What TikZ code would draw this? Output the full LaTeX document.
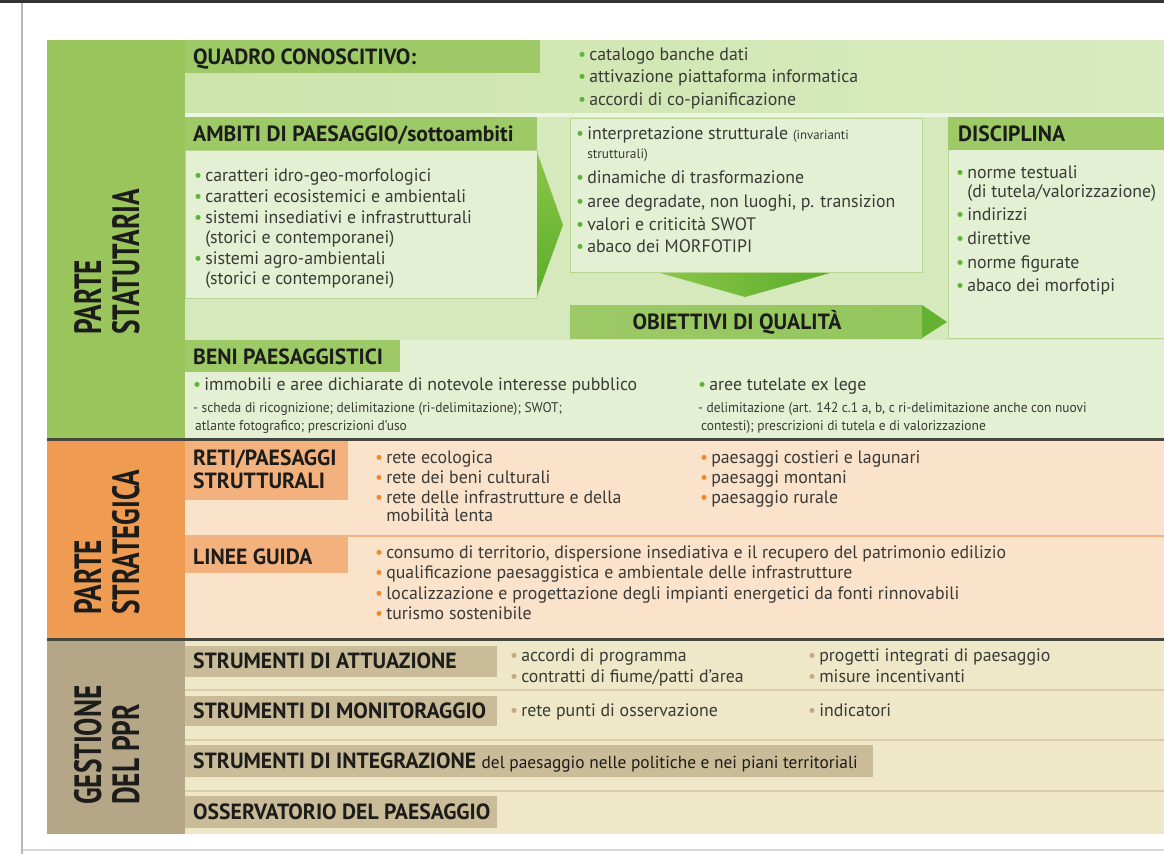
\documentclass[tikz,border=0pt]{standalone}
\usepackage{fontspec}
\setmainfont{PT Sans}
\newfontfamily\hdrfam[FakeStretch=0.985]{PT Sans}
\newfontfamily\vfam[FakeStretch=0.72]{PT Sans}
\newfontfamily\bodyfam[FakeStretch=0.99]{PT Sans}
\newfontfamily\smfam[FakeStretch=0.96]{PT Sans}
\definecolor{gcol}{HTML}{99C55C}
\definecolor{ghdr}{HTML}{9DCA66}
\definecolor{gband}{HTML}{CDE4AC}
\definecolor{gbandR}{HTML}{D8EBC0}
\definecolor{gbg}{HTML}{D5E9BC}
\definecolor{gbox}{HTML}{E4F0D3}
\definecolor{gline}{HTML}{B7D491}
\definecolor{garrowA}{HTML}{8BC649}
\definecolor{garrowB}{HTML}{5BAD2C}
\definecolor{gdot}{HTML}{5FB337}
\definecolor{ocol}{HTML}{EF9C52}
\definecolor{ohdr}{HTML}{F3B27D}
\definecolor{obg}{HTML}{FBE2CA}
\definecolor{odot}{HTML}{EE8B30}
\definecolor{oline}{HTML}{F0B587}
\definecolor{tcol}{HTML}{B4A687}
\definecolor{thdr}{HTML}{CABC99}
\definecolor{tbg}{HTML}{EEE7C8}
\definecolor{tdot}{HTML}{C4A984}
\definecolor{tline}{HTML}{D8CDA8}
\definecolor{sepc}{HTML}{46473F}
\definecolor{txt}{HTML}{3A3A36}
\definecolor{hdrtxt}{HTML}{1C1C1A}
\newcommand\gb{\textcolor{gdot}{•}\hspace{3pt}}
\newcommand\ob{\textcolor{odot}{•}\hspace{3pt}}
\newcommand\tb{\textcolor{tdot}{•}\hspace{3pt}}
\newcommand\nb{\phantom{•}\hspace{3pt}}
\tikzset{
  hdr/.style={anchor=base west, inner sep=0pt, font=\hdrfam\bfseries\fontsize{22}{24}\selectfont, text=hdrtxt},
  bt/.style={anchor=base west, inner sep=0pt, font=\bodyfam\fontsize{18}{20}\selectfont, text=txt},
  st/.style={anchor=base west, inner sep=0pt, font=\smfam\fontsize{14}{16}\selectfont, text=txt},
  vlab/.style={rotate=90, anchor=base west, inner sep=0pt, font=\vfam\bfseries\fontsize{38}{40}\selectfont, text=hdrtxt},
}
\begin{document}
\begin{tikzpicture}[x=1pt,y=-1pt]
\useasboundingbox (0,0) rectangle (1164,854);
\fill[white] (0,0) rectangle (1164,854);
% page frame
\fill[black!80] (0,0) rectangle (1164,3);
\fill[black!28] (21,3) rectangle (23,854);
\fill[black!15] (23,849) rectangle (1164,851);

% ---------------- green section
\fill[gbg] (47,40) rectangle (1164,438);
\shade[left color=gband, right color=gbandR] (185,40) rectangle (1164,113);
\fill[ghdr] (185,40) rectangle (540,73);
\fill[gbox!70!white] (185,113) rectangle (1164,117);
\fill[ghdr] (185,117) rectangle (537,150);
\filldraw[fill=gbox, draw=gline] (185,150) rectangle (537,298);
\shade[top color=garrowA, bottom color=garrowB] (537,152) -- (563,225) -- (537,296) -- cycle;
\filldraw[fill=gbox, draw=gline] (570,118) rectangle (922,272);
\shade[left color=garrowA, right color=garrowB] (660,273) -- (830,273) -- (745,297) -- cycle;
\shade[left color=ghdr, right color=ghdr!85!garrowB] (570,305) rectangle (922,338);
\fill[garrowB!80!garrowA] (922,305) -- (947,322) -- (922,338) -- cycle;
\filldraw[fill=gbox, draw=gline] (948,117) rectangle (1165,338);
\fill[ghdr] (948,117) rectangle (1164,150);
\fill[gbox] (185,340) rectangle (1164,438);
\fill[ghdr] (185,340) rectangle (400,372);
\fill[gcol] (47,40) rectangle (185,438);
\fill[sepc] (47,438) rectangle (1164,441);

% ---------------- orange section
\fill[obg] (47,441) rectangle (1164,638);
\fill[ocol] (47,441) rectangle (185,638);
\fill[ohdr] (185,441) rectangle (348,500);
\fill[oline] (185,535) rectangle (1164,537);
\fill[ohdr] (185,537) rectangle (348,573);
\fill[sepc] (47,638) rectangle (1164,641);

% ---------------- tan section
\fill[tbg] (47,641) rectangle (1164,834);
\fill[tcol] (47,641) rectangle (185,834);
\fill[thdr] (185,646) rectangle (497,677);
\fill[tline] (185,689) rectangle (1164,691);
\fill[thdr] (185,696) rectangle (497,726);
\fill[tline] (185,739) rectangle (1164,741);
\fill[thdr] (185,745) rectangle (873,777);
\fill[tline] (185,790) rectangle (1164,792);
\fill[thdr] (185,796) rectangle (497,828);

% ---------------- vertical labels
\node[vlab] (ps1) at (101,335) {PARTE};
\node[vlab] (ps2) at (139,335) {STATUTARIA};
\node[vlab] (pg1) at (101,615) {PARTE};
\node[vlab] (pg2) at (139,615) {STRATEGICA};
\node[vlab] (gp1) at (101,805) {GESTIONE};
\node[vlab] (gp2) at (139,805) {DEL PPR};

% ---------------- green texts
\node[hdr] (qh) at (193,64) {QUADRO CONOSCITIVO:};
\node[bt] (q1) at (578,60) {\gb catalogo banche dati};
\node[bt] (q2) at (578,82) {\gb attivazione piattaforma informatica};
\node[bt] (q3) at (578,105) {\gb accordi di co-pianificazione};

\node[hdr] (ah) at (193,141) {AMBITI DI PAESAGGIO/sottoambiti};
\node[bt] (a1) at (194,181) {\gb caratteri idro-geo-morfologici};
\node[bt] (a2) at (194,202) {\gb caratteri ecosistemici e ambientali};
\node[bt] (a3) at (194,223) {\gb sistemi insediativi e infrastrutturali};
\node[bt] (a4) at (194,243) {\nb (storici e contemporanei)};
\node[bt] (a5) at (194,264) {\gb sistemi agro-ambientali};
\node[bt] (a6) at (194,284) {\nb (storici e contemporanei)};

\node[bt] (m1) at (576,139) {\gb interpretazione strutturale {\fontsize{13}{14}\selectfont(invarianti}};
\node[bt] (m2) at (576,158) {\nb{\fontsize{13.5}{14}\selectfont strutturali)}};
\node[bt] (m3) at (576,183) {\gb dinamiche di trasformazione};
\node[bt] (m4) at (576,207) {\gb aree degradate, non luoghi, p. transizion};
\node[bt] (m5) at (576,230) {\gb valori e criticità SWOT};
\node[bt] (m6) at (576,252) {\gb abaco dei MORFOTIPI};

\node[hdr] (dh) at (958,141) {DISCIPLINA};
\node[bt] (d1) at (956,178) {\gb norme testuali};
\node[bt] (d2) at (956,197) {\nb(di tutela/valorizzazione)};
\node[bt] (d3) at (956,220) {\gb indirizzi};
\node[bt] (d4) at (956,244) {\gb direttive};
\node[bt] (d5) at (956,268) {\gb norme figurate};
\node[bt] (d6) at (956,291) {\gb abaco dei morfotipi};

\node[hdr, anchor=base] (oq) at (737,329) {OBIETTIVI DI QUALITÀ};

\node[hdr] (bh) at (193,364) {BENI PAESAGGISTICI};
\node[bt] (b1) at (193,390) {\gb immobili e aree dichiarate di notevole interesse pubblico};
\node[st] (b2) at (193,412) {- scheda di ricognizione; delimitazione (ri-delimitazione); SWOT;};
\node[st] (b3) at (195,430) {atlante fotografico; prescrizioni d’uso};
\node[bt] (b4) at (698,390) {\gb aree tutelate ex lege};
\node[st] (b5) at (698,412) {- delimitazione (art. 142 c.1 a, b, c ri-delimitazione anche con nuovi};
\node[st] (b6) at (701,430) {contesti); prescrizioni di tutela e di valorizzazione};

% ---------------- orange texts
\node[hdr] (rh1) at (193,465) {RETI/PAESAGGI};
\node[hdr] (rh2) at (193,488) {STRUTTURALI};
\node[bt] (r1) at (375,463) {\ob rete ecologica};
\node[bt] (r2) at (375,483) {\ob rete dei beni culturali};
\node[bt] (r3) at (375,503) {\ob rete delle infrastrutture e della};
\node[bt] (r4) at (375,521) {\nb mobilità lenta};
\node[bt] (r5) at (700,463) {\ob paesaggi costieri e lagunari};
\node[bt] (r6) at (700,483) {\ob paesaggi montani};
\node[bt] (r7) at (700,503) {\ob paesaggio rurale};

\node[hdr] (lh) at (193,564) {LINEE GUIDA};
\node[bt] (l1) at (375,558) {\ob consumo di territorio, dispersione insediativa e il recupero del patrimonio edilizio};
\node[bt] (l2) at (375,578) {\ob qualificazione paesaggistica e ambientale delle infrastrutture};
\node[bt] (l3) at (375,599) {\ob localizzazione e progettazione degli impianti energetici da fonti rinnovabili};
\node[bt] (l4) at (375,619) {\ob turismo sostenibile};

% ---------------- tan texts
\node[hdr] (th1) at (193,668) {STRUMENTI DI ATTUAZIONE};
\node[bt] (t1) at (510,661) {\tb accordi di programma};
\node[bt] (t2) at (510,682) {\tb contratti di fiume/patti d’area};
\node[bt] (t3) at (808,661) {\tb progetti integrati di paesaggio};
\node[bt] (t4) at (808,682) {\tb misure incentivanti};
\node[hdr] (th2) at (193,718) {STRUMENTI DI MONITORAGGIO};
\node[bt] (t5) at (510,716) {\tb rete punti di osservazione};
\node[bt] (t6) at (808,716) {\tb indicatori};
\node[hdr] (th3) at (193,768) {STRUMENTI DI INTEGRAZIONE {\bodyfam\mdseries\fontsize{17.5}{19}\selectfont del paesaggio nelle politiche e nei piani territoriali}};
\node[hdr] (th4) at (193,819) {OSSERVATORIO DEL PAESAGGIO};
\end{tikzpicture}
\end{document}
